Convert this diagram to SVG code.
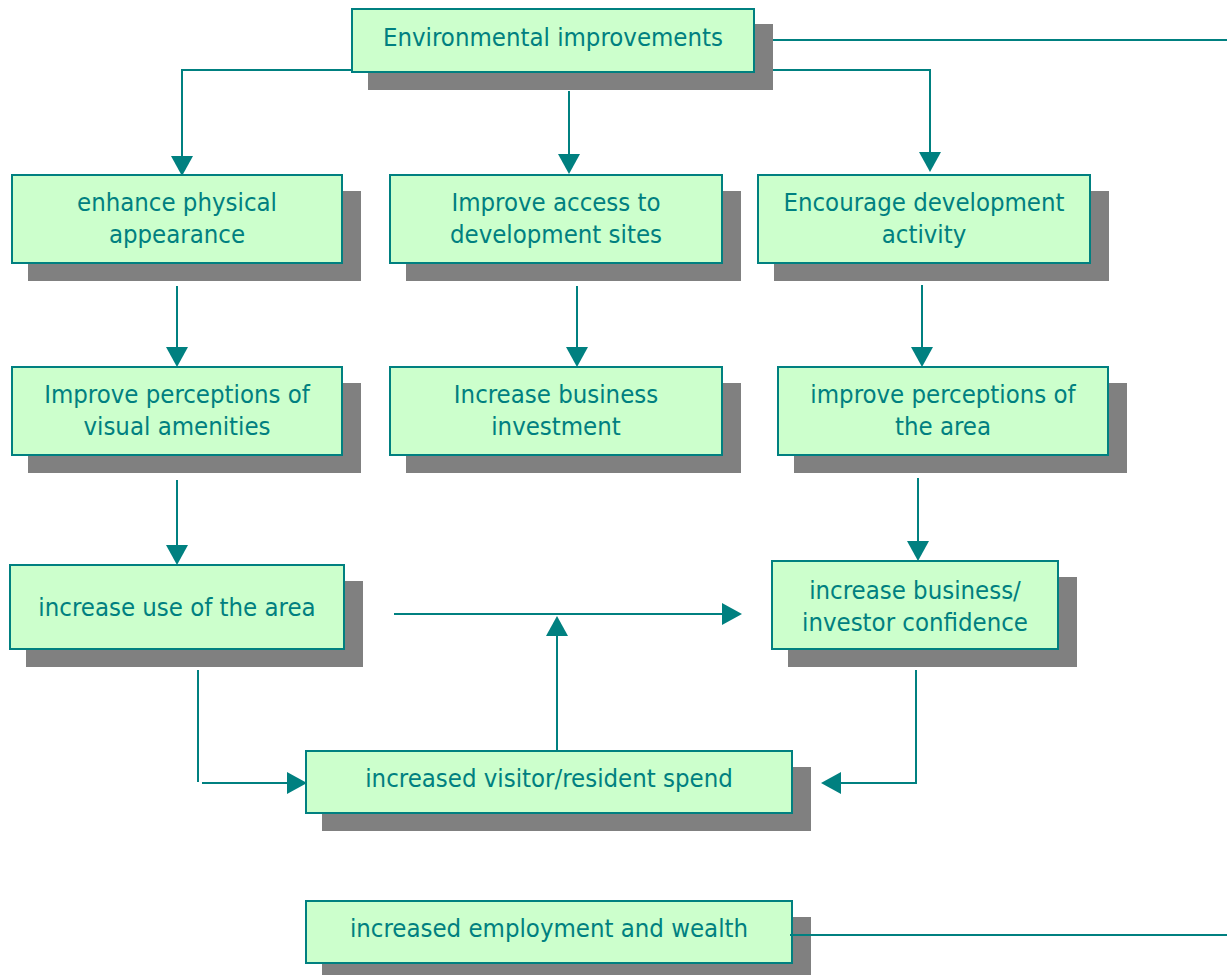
<svg xmlns="http://www.w3.org/2000/svg" width="1227" height="975" viewBox="0 0 1227 975">
<style>
.box{fill:#CCFFCC;stroke:#008080;stroke-width:2}
.sh{fill:#808080}
.t{font-family:"DejaVu Sans Condensed","DejaVu Sans",sans-serif;font-size:25.5px;fill:#008080;text-anchor:middle}
.c{fill:none;stroke:#008080;stroke-width:2}
.ah{fill:#008080}
</style>
<rect width="1227" height="975" fill="#fff"/>
<g id="n-env"><rect class="sh" x="368" y="24" width="405" height="66"/><rect class="box" x="352" y="9" width="402" height="63"/><text class="t" x="553" y="46">Environmental improvements</text></g>
<g id="n-enhance"><rect class="sh" x="28" y="191" width="333" height="90"/><rect class="box" x="12" y="175" width="330" height="88"/><text class="t" x="177" y="211">enhance physical</text><text class="t" x="177" y="243">appearance</text></g>
<g id="n-access"><rect class="sh" x="406" y="191" width="335" height="90"/><rect class="box" x="390" y="175" width="332" height="88"/><text class="t" x="556" y="211">Improve access to</text><text class="t" x="556" y="243">development sites</text></g>
<g id="n-encourage"><rect class="sh" x="774" y="191" width="335" height="90"/><rect class="box" x="758" y="175" width="332" height="88"/><text class="t" x="924" y="211">Encourage development</text><text class="t" x="924" y="243">activity</text></g>
<g id="n-visual"><rect class="sh" x="28" y="383" width="333" height="90"/><rect class="box" x="12" y="367" width="330" height="88"/><text class="t" x="177" y="403">Improve perceptions of</text><text class="t" x="177" y="435">visual amenities</text></g>
<g id="n-invest"><rect class="sh" x="406" y="383" width="335" height="90"/><rect class="box" x="390" y="367" width="332" height="88"/><text class="t" x="556" y="403">Increase business</text><text class="t" x="556" y="435">investment</text></g>
<g id="n-area"><rect class="sh" x="794" y="383" width="333" height="90"/><rect class="box" x="778" y="367" width="330" height="88"/><text class="t" x="943" y="403">improve perceptions of</text><text class="t" x="943" y="435">the area</text></g>
<g id="n-use"><rect class="sh" x="26" y="581" width="337" height="86"/><rect class="box" x="10" y="565" width="334" height="84"/><text class="t" x="177" y="616">increase use of the area</text></g>
<g id="n-confidence"><rect class="sh" x="788" y="577" width="289" height="90"/><rect class="box" x="772" y="561" width="286" height="88"/><text class="t" x="915" y="599">increase business/</text><text class="t" x="915" y="631">investor confidence</text></g>
<g id="n-spend"><rect class="sh" x="322" y="767" width="489" height="64"/><rect class="box" x="306" y="751" width="486" height="62"/><text class="t" x="549" y="787">increased visitor/resident spend</text></g>
<g id="n-employment"><rect class="sh" x="322" y="917" width="489" height="58"/><rect class="box" x="306" y="901" width="486" height="62"/><text class="t" x="549" y="937">increased employment and wealth</text></g>
<g id="connectors">
<path class="c" d="M773 40H1227"/>
<path class="c" d="M351 70H182V158"/>
<path class="c" d="M773 70H930V155"/>
<path class="c" d="M569 91V157"/>
<path class="c" d="M177 286V349"/>
<path class="c" d="M577 286V349"/>
<path class="c" d="M922 285V349"/>
<path class="c" d="M177 480V547"/>
<path class="c" d="M918 478V543"/>
<path class="c" d="M394 614H724"/>
<path class="c" d="M557 750V634"/>
<path class="c" d="M198 670V782"/>
<path class="c" d="M202 783H289"/>
<path class="c" d="M916 670V783H839"/>
<path class="c" d="M790 935H1227"/>
<polygon class="ah" points="171,156 193,156 182,176"/>
<polygon class="ah" points="919,152 941,152 930,172"/>
<polygon class="ah" points="558,154 580,154 569,174"/>
<polygon class="ah" points="166,347 188,347 177,367"/>
<polygon class="ah" points="566,347 588,347 577,367"/>
<polygon class="ah" points="911,347 933,347 922,367"/>
<polygon class="ah" points="166,545 188,545 177,565"/>
<polygon class="ah" points="907,541 929,541 918,561"/>
<polygon class="ah" points="722,603 722,625 742,614"/>
<polygon class="ah" points="546,636 568,636 557,616"/>
<polygon class="ah" points="287,772 287,794 307,783"/>
<polygon class="ah" points="841,772 841,794 821,783"/>
</g>
</svg>
